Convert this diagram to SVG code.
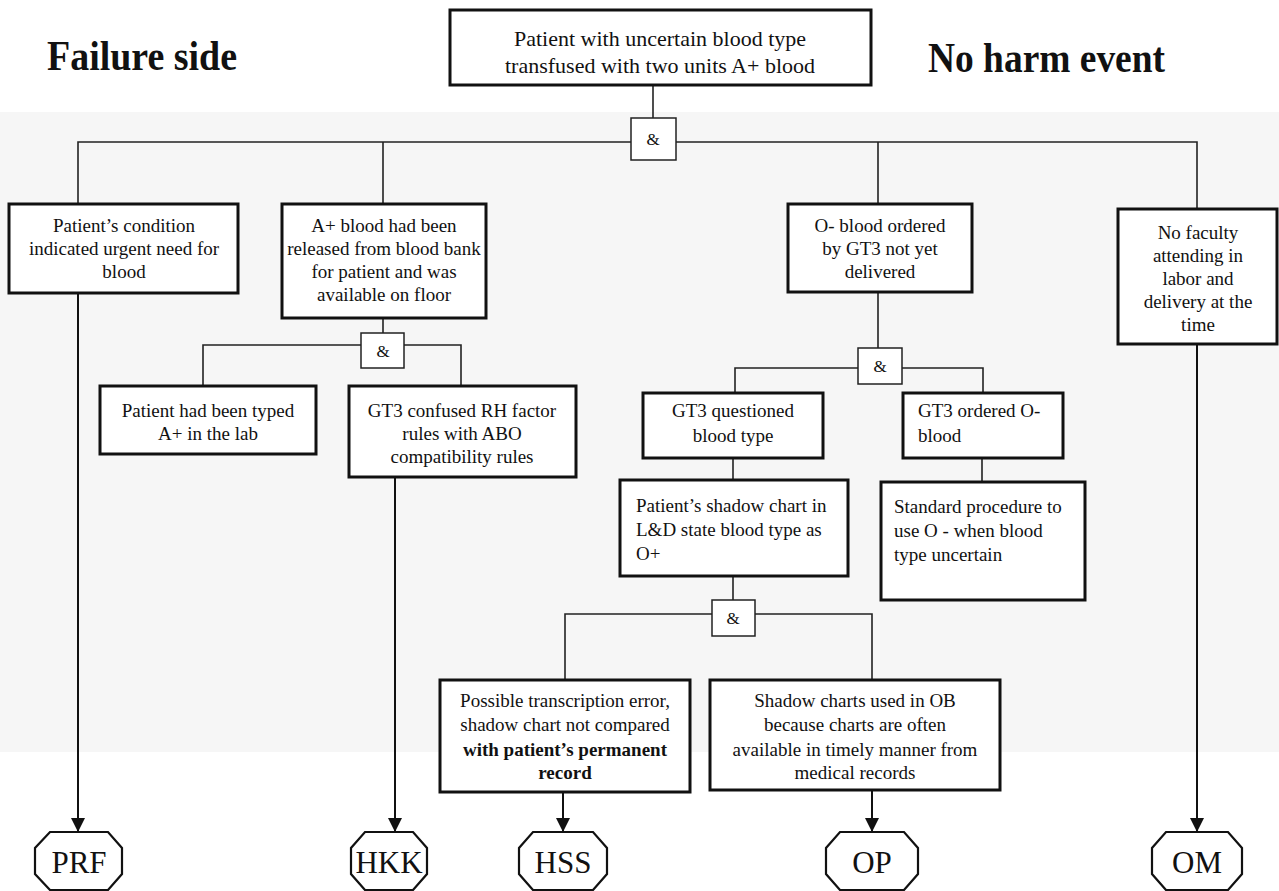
<svg xmlns="http://www.w3.org/2000/svg" width="1279" height="891" viewBox="0 0 1279 891">
<style>
.box{fill:#fff;stroke:#111;stroke-width:3}
.gate{fill:#fff;stroke:#222;stroke-width:1.5}
.oct{fill:#fff;stroke:#111;stroke-width:2.2}
.ln{fill:none;stroke:#222;stroke-width:1.6}
.arr{fill:none;stroke:#111;stroke-width:2;marker-end:url(#ah)}
text{font-family:"Liberation Serif","Times New Roman",serif;fill:#111}
.t{font-size:19px;text-anchor:middle}
.tl{font-size:19px;text-anchor:start}
.g{font-size:17px;text-anchor:middle}
.o{font-size:31px;text-anchor:middle}
.h{font-size:42px;font-weight:bold}
.top{font-size:22px;text-anchor:middle}
</style>
<defs>
<marker id="ah" markerUnits="userSpaceOnUse" markerWidth="16" markerHeight="20" refX="14" refY="7" orient="auto">
<path d="M0,0 L14,7 L0,14 Z" fill="#111"/>
</marker>
</defs>
<rect x="0" y="0" width="1279" height="891" fill="#fff"/>
<rect x="0" y="112" width="1279" height="640" fill="#f6f6f6"/>

<text class="h" x="47" y="70" textLength="190" lengthAdjust="spacingAndGlyphs">Failure side</text>
<text class="h" x="928" y="72" textLength="237" lengthAdjust="spacingAndGlyphs">No harm event</text>

<g id="connectors">
<line class="ln" x1="653" y1="85" x2="653" y2="118"/>
<polyline class="ln" points="78,204 78,142 631,142"/>
<line class="ln" x1="383" y1="142" x2="383" y2="204"/>
<polyline class="ln" points="676,142 1197,142 1197,209"/>
<line class="ln" x1="878" y1="142" x2="878" y2="204"/>
<line class="ln" x1="383" y1="318" x2="383" y2="333"/>
<polyline class="ln" points="361,345 203,345 203,386"/>
<polyline class="ln" points="404,345 461,345 461,386"/>
<line class="ln" x1="878" y1="292" x2="878" y2="348"/>
<polyline class="ln" points="858,368 735,368 735,393"/>
<polyline class="ln" points="902,368 983,368 983,393"/>
<line class="ln" x1="733" y1="458" x2="733" y2="480"/>
<line class="ln" x1="982" y1="458" x2="982" y2="482"/>
<line class="ln" x1="733" y1="576" x2="733" y2="600"/>
<polyline class="ln" points="712,614 565,614 565,680"/>
<polyline class="ln" points="755,614 872,614 872,680"/>
<line class="arr" x1="78" y1="293" x2="78" y2="832"/>
<line class="arr" x1="395" y1="477" x2="395" y2="832"/>
<line class="arr" x1="563" y1="792" x2="563" y2="832"/>
<line class="arr" x1="872" y1="790" x2="872" y2="832"/>
<line class="arr" x1="1197" y1="344" x2="1197" y2="832"/>
</g>

<g id="top-event">
<rect class="box" x="450" y="10" width="421" height="75"/>
<text class="top" x="660" y="46">Patient with uncertain blood type</text>
<text class="top" x="660" y="73">transfused with two units A+ blood</text>
</g>

<g id="gate1"><rect class="gate" x="631" y="118" width="45" height="42"/><text class="g" x="653" y="145">&amp;</text></g>
<g id="gate2"><rect class="gate" x="361" y="333" width="43" height="35"/><text class="g" x="383" y="357">&amp;</text></g>
<g id="gate3"><rect class="gate" x="858" y="348" width="44" height="36"/><text class="g" x="880" y="372">&amp;</text></g>
<g id="gate4"><rect class="gate" x="712" y="600" width="43" height="36"/><text class="g" x="733" y="624">&amp;</text></g>

<g id="n-condition">
<rect class="box" x="9" y="204" width="229" height="89"/>
<text class="t" x="124" y="232">Patient’s condition</text>
<text class="t" x="124" y="255">indicated urgent need for</text>
<text class="t" x="124" y="278">blood</text>
</g>

<g id="n-released">
<rect class="box" x="282" y="204" width="204" height="114"/>
<text class="t" x="384" y="232">A+ blood had been</text>
<text class="t" x="384" y="255">released from blood bank</text>
<text class="t" x="384" y="278">for patient and was</text>
<text class="t" x="384" y="301">available on floor</text>
</g>

<g id="n-oblood">
<rect class="box" x="788" y="204" width="184" height="88"/>
<text class="t" x="880" y="232">O- blood ordered</text>
<text class="t" x="880" y="255">by GT3 not yet</text>
<text class="t" x="880" y="278">delivered</text>
</g>

<g id="n-faculty">
<rect class="box" x="1118" y="209" width="159" height="135"/>
<text class="t" x="1198" y="239">No faculty</text>
<text class="t" x="1198" y="262">attending in</text>
<text class="t" x="1198" y="285">labor and</text>
<text class="t" x="1198" y="308">delivery at the</text>
<text class="t" x="1198" y="331">time</text>
</g>

<g id="n-typed">
<rect class="box" x="100" y="386" width="216" height="68"/>
<text class="t" x="208" y="417">Patient had been typed</text>
<text class="t" x="208" y="440">A+ in the lab</text>
</g>

<g id="n-confused">
<rect class="box" x="349" y="386" width="227" height="91"/>
<text class="t" x="462" y="417">GT3 confused RH factor</text>
<text class="t" x="462" y="440">rules with ABO</text>
<text class="t" x="462" y="463">compatibility  rules</text>
</g>

<g id="n-questioned">
<rect class="box" x="643" y="393" width="180" height="65"/>
<text class="t" x="733" y="417">GT3 questioned</text>
<text class="t" x="733" y="442">blood type</text>
</g>

<g id="n-ordered">
<rect class="box" x="903" y="393" width="160" height="65"/>
<text class="tl" x="918" y="417">GT3 ordered O-</text>
<text class="tl" x="918" y="442">blood</text>
</g>

<g id="n-shadow">
<rect class="box" x="620" y="480" width="228" height="96"/>
<text class="tl" x="636" y="512">Patient’s shadow chart in</text>
<text class="tl" x="636" y="536">L&amp;D state blood type as</text>
<text class="tl" x="636" y="560">O+</text>
</g>

<g id="n-standard">
<rect class="box" x="881" y="482" width="204" height="118"/>
<text class="tl" x="894" y="513">Standard procedure to</text>
<text class="tl" x="894" y="537">use O - when blood</text>
<text class="tl" x="894" y="561">type uncertain</text>
</g>

<g id="n-transcription">
<rect class="box" x="440" y="680" width="250" height="112"/>
<text class="t" x="565" y="707">Possible transcription error,</text>
<text class="t" x="565" y="731">shadow chart not compared</text>
<text class="t" x="565" y="756" font-weight="bold">with patient’s permanent</text>
<text class="t" x="565" y="779" font-weight="bold">record</text>
</g>

<g id="n-charts">
<rect class="box" x="710" y="680" width="290" height="110"/>
<text class="t" x="855" y="707">Shadow charts used in OB</text>
<text class="t" x="855" y="731">because charts are often</text>
<text class="t" x="855" y="756">available in timely manner from</text>
<text class="t" x="855" y="779">medical records</text>
</g>

<g id="PRF">
<polygon class="oct" points="50,832 108,832 122,848 122,874 108,890 50,890 35,874 35,848"/>
<text class="o" x="79" y="873">PRF</text>
</g>
<g id="HKK">
<polygon class="oct" points="365,832 413,832 427,848 427,874 413,890 365,890 351,874 351,848"/>
<text class="o" x="389" y="873">HKK</text>
</g>
<g id="HSS">
<polygon class="oct" points="533,832 593,832 607,848 607,874 593,890 533,890 519,874 519,848"/>
<text class="o" x="563" y="873">HSS</text>
</g>
<g id="OP">
<polygon class="oct" points="840,832 904,832 918,848 918,874 904,890 840,890 826,874 826,848"/>
<text class="o" x="872" y="873">OP</text>
</g>
<g id="OM">
<polygon class="oct" points="1166,832 1228,832 1242,848 1242,874 1228,890 1166,890 1152,874 1152,848"/>
<text class="o" x="1197" y="873">OM</text>
</g>
</svg>
